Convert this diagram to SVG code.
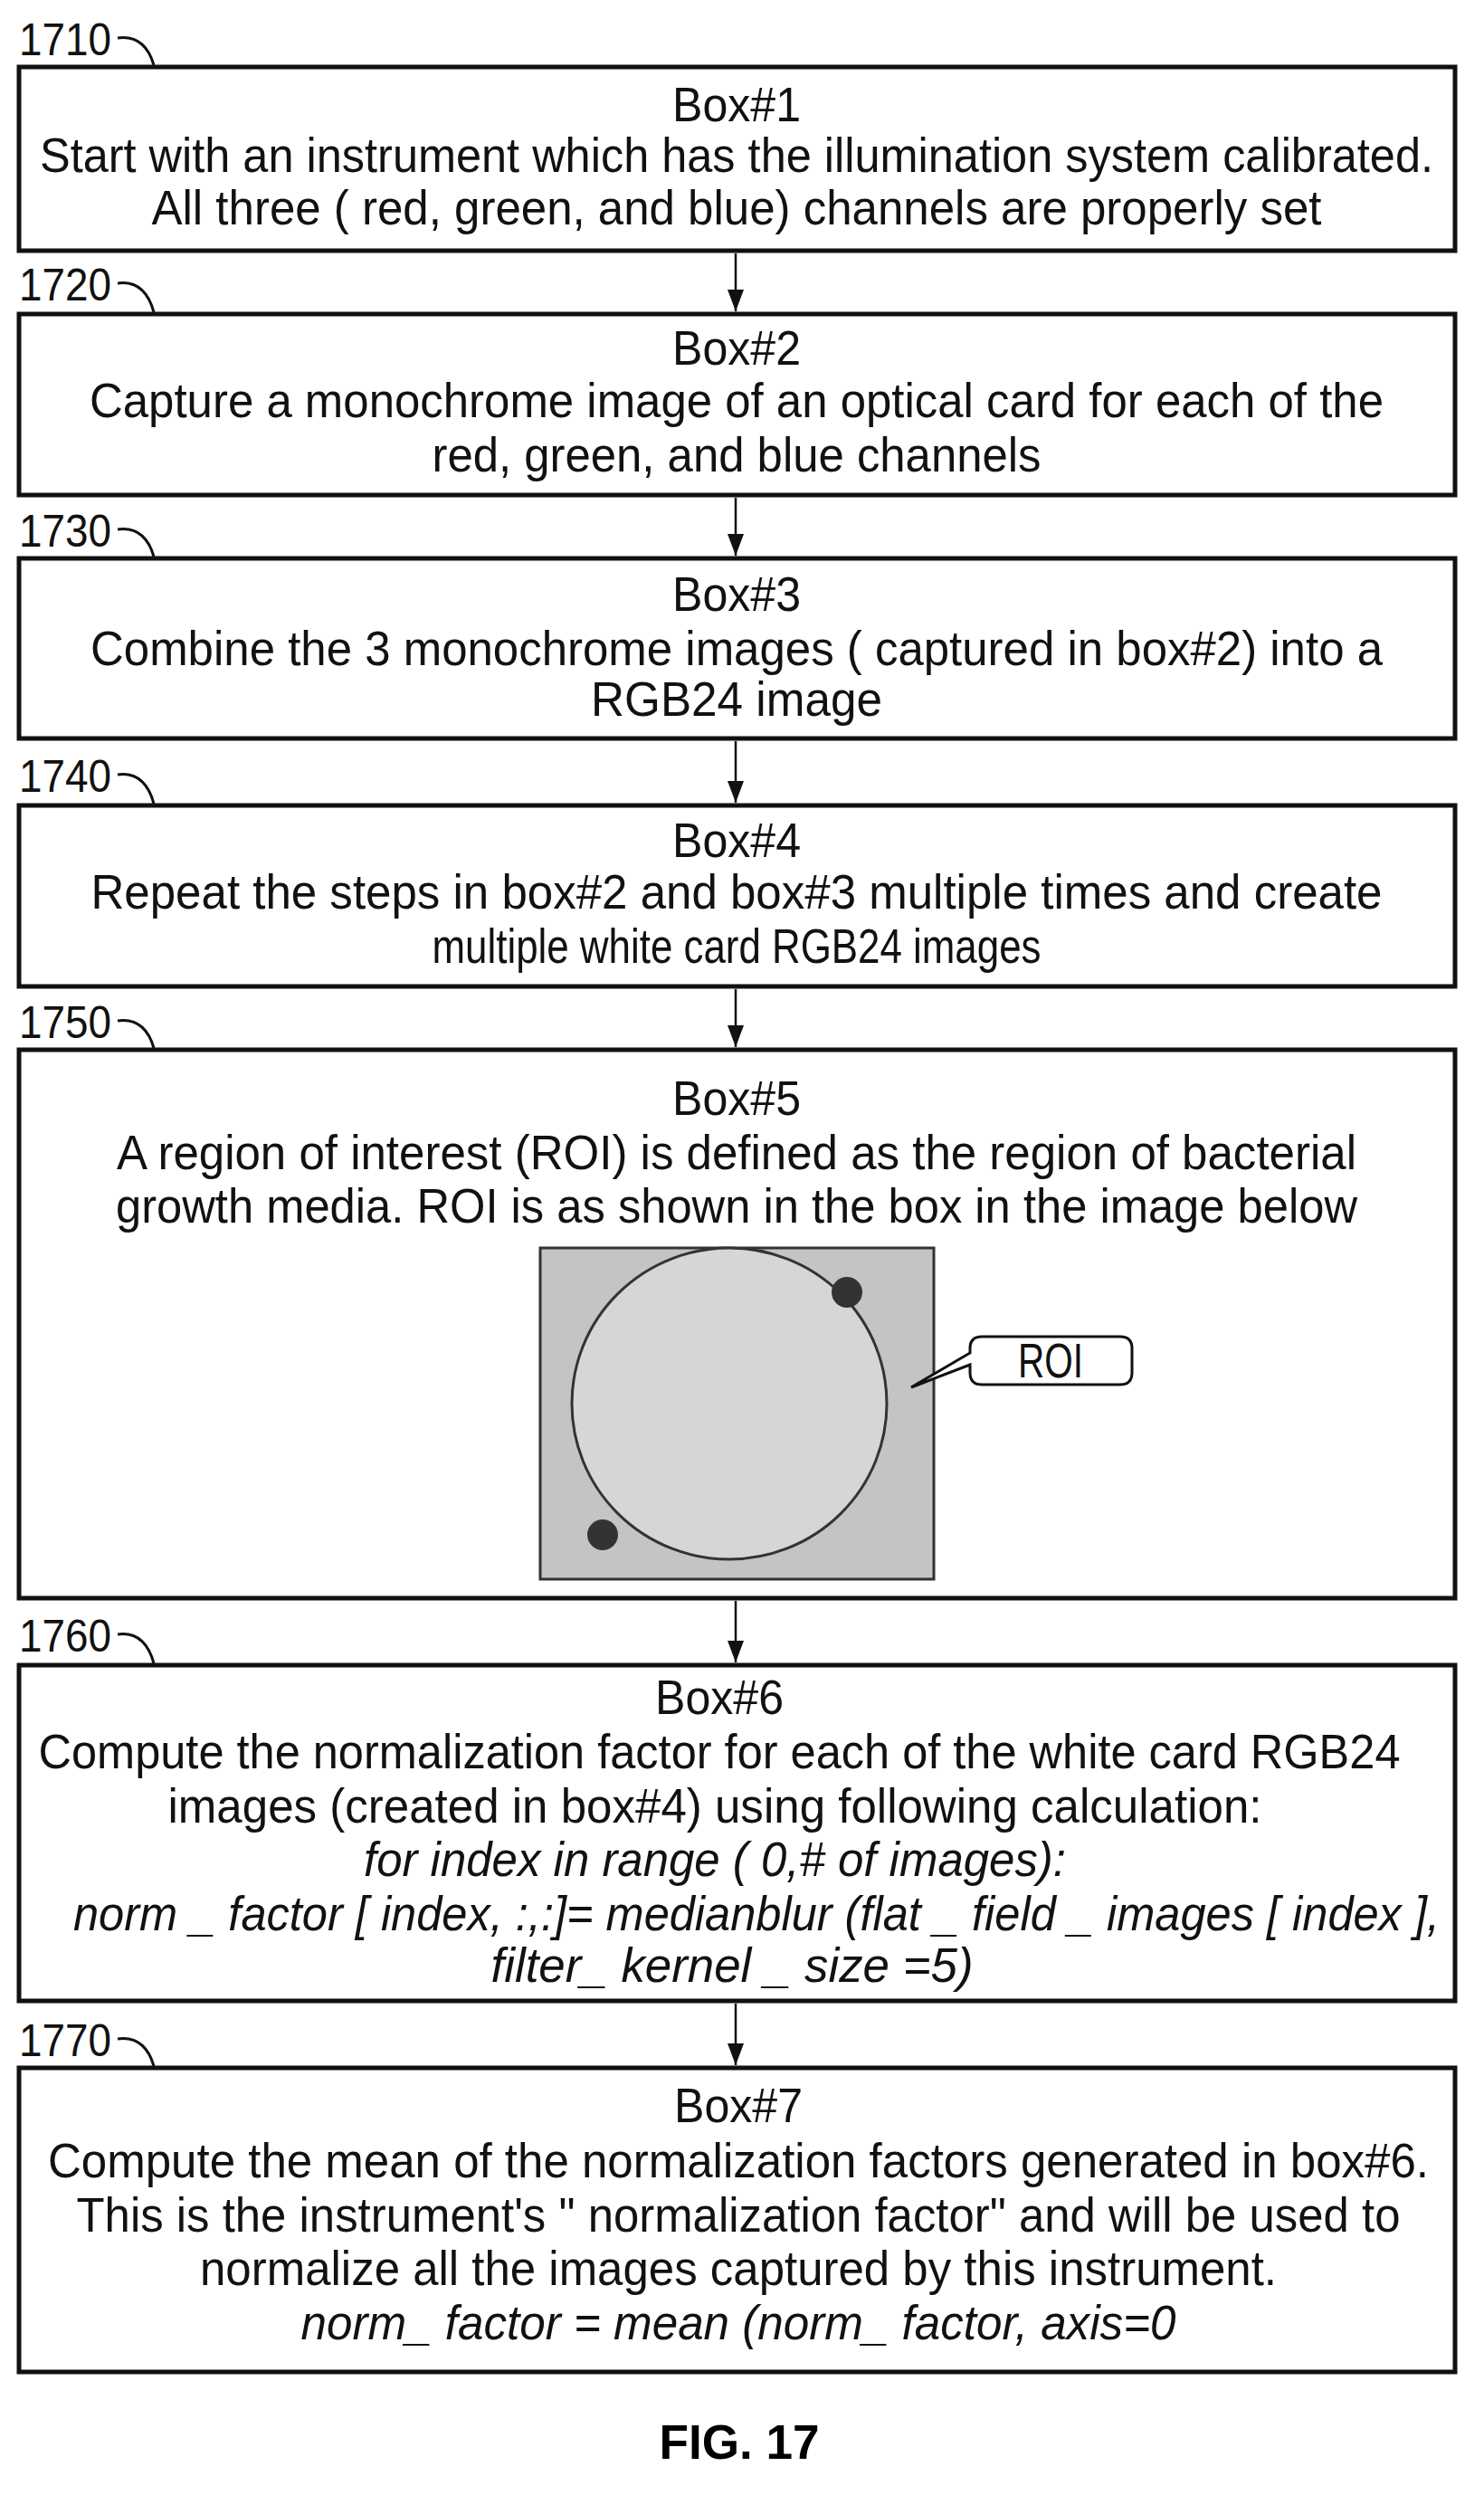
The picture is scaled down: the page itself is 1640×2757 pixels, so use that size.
<svg xmlns="http://www.w3.org/2000/svg" width="1640" height="2757" viewBox="0 0 1640 2757">
<style>
.b{fill:#fff;stroke:#111;stroke-width:5}
.t{font-family:"Liberation Sans",Arial,sans-serif;font-size:53px;fill:#111;text-anchor:middle}
.i{font-style:italic}
.l{font-family:"Liberation Sans",Arial,sans-serif;font-size:50px;fill:#111}
.c{fill:none;stroke:#111;stroke-width:3}
</style>
<defs><marker id="a" markerWidth="24" markerHeight="18" refX="24" refY="9" orient="auto" markerUnits="userSpaceOnUse" viewBox="0 0 24 18"><path d="M0,0 L24,9 L0,18 Z" fill="#111"/></marker></defs>
<rect width="1640" height="2757" fill="#fff"/>
<g id="connectors" stroke="#111" stroke-width="2.5" fill="none">
<line x1="813" y1="280" x2="813" y2="344" marker-end="url(#a)"/>
<line x1="813" y1="550" x2="813" y2="614" marker-end="url(#a)"/>
<line x1="813" y1="819" x2="813" y2="887" marker-end="url(#a)"/>
<line x1="813" y1="1093" x2="813" y2="1157" marker-end="url(#a)"/>
<line x1="813" y1="1769" x2="813" y2="1837" marker-end="url(#a)"/>
<line x1="813" y1="2214" x2="813" y2="2282" marker-end="url(#a)"/>
</g>
<g id="box1"><text class="l" x="21" y="61" textLength="102" lengthAdjust="spacingAndGlyphs">1710</text><path class="c" d="M130,42 Q160,38 170,72"/>
<rect class="b" x="21" y="74" width="1587" height="203"/>
<text class="t" x="814" y="134" textLength="142" lengthAdjust="spacingAndGlyphs">Box#1</text>
<text class="t" x="814" y="190" textLength="1540" lengthAdjust="spacingAndGlyphs">Start with an instrument which has the illumination system calibrated.</text>
<text class="t" x="814" y="248" textLength="1293" lengthAdjust="spacingAndGlyphs">All three ( red, green, and blue) channels are properly set</text></g>
<g id="box2"><text class="l" x="21" y="332" textLength="102" lengthAdjust="spacingAndGlyphs">1720</text><path class="c" d="M130,313 Q160,309 170,345"/>
<rect class="b" x="21" y="347" width="1587" height="200"/>
<text class="t" x="814" y="403" textLength="142" lengthAdjust="spacingAndGlyphs">Box#2</text>
<text class="t" x="814" y="461" textLength="1430" lengthAdjust="spacingAndGlyphs">Capture a monochrome image of an optical card for each of the</text>
<text class="t" x="814" y="521" textLength="673" lengthAdjust="spacingAndGlyphs">red, green, and blue channels</text></g>
<g id="box3"><text class="l" x="21" y="604" textLength="102" lengthAdjust="spacingAndGlyphs">1730</text><path class="c" d="M130,585 Q160,581 170,615"/>
<rect class="b" x="21" y="617" width="1587" height="199"/>
<text class="t" x="814" y="675" textLength="142" lengthAdjust="spacingAndGlyphs">Box#3</text>
<text class="t" x="814" y="735" textLength="1428" lengthAdjust="spacingAndGlyphs">Combine the 3 monochrome images ( captured in box#2) into a</text>
<text class="t" x="814" y="791" textLength="322" lengthAdjust="spacingAndGlyphs">RGB24 image</text></g>
<g id="box4"><text class="l" x="21" y="875" textLength="102" lengthAdjust="spacingAndGlyphs">1740</text><path class="c" d="M130,856 Q160,852 170,888"/>
<rect class="b" x="21" y="890" width="1587" height="200"/>
<text class="t" x="814" y="947" textLength="142" lengthAdjust="spacingAndGlyphs">Box#4</text>
<text class="t" x="814" y="1004" textLength="1427" lengthAdjust="spacingAndGlyphs">Repeat the steps in box#2 and box#3 multiple times and create</text>
<text class="t" x="814" y="1064" textLength="673" lengthAdjust="spacingAndGlyphs">multiple white card RGB24 images</text></g>
<g id="box5"><text class="l" x="21" y="1147" textLength="102" lengthAdjust="spacingAndGlyphs">1750</text><path class="c" d="M130,1128 Q160,1124 170,1158"/>
<rect class="b" x="21" y="1160" width="1587" height="606"/>
<text class="t" x="814" y="1232" textLength="142" lengthAdjust="spacingAndGlyphs">Box#5</text>
<text class="t" x="814" y="1292" textLength="1370" lengthAdjust="spacingAndGlyphs">A region of interest (ROI) is defined as the region of bacterial</text>
<text class="t" x="814" y="1351" textLength="1372" lengthAdjust="spacingAndGlyphs">growth media. ROI is as shown in the box in the image below</text>
<rect x="597" y="1379" width="435" height="366" fill="#c4c4c4" stroke="#333" stroke-width="3"/>
<ellipse cx="806" cy="1551" rx="174" ry="172" fill="#d6d6d6" stroke="#333" stroke-width="3"/>
<circle cx="936" cy="1428" r="17" fill="#333"/>
<circle cx="666" cy="1696" r="17" fill="#333"/>
<path d="M1007,1533 L1072,1495 L1072,1490 Q1072,1477 1085,1477 L1238,1477 Q1251,1477 1251,1490 L1251,1517 Q1251,1530 1238,1530 L1085,1530 Q1072,1530 1072,1517 L1072,1508 Z" fill="#fff" stroke="#111" stroke-width="3"/>
<text class="t" x="1161" y="1522" textLength="72" lengthAdjust="spacingAndGlyphs">ROI</text></g>
<g id="box6"><text class="l" x="21" y="1825" textLength="102" lengthAdjust="spacingAndGlyphs">1760</text><path class="c" d="M130,1806 Q160,1802 170,1838"/>
<rect class="b" x="21" y="1840" width="1587" height="371"/>
<text class="t" x="795" y="1894" textLength="142" lengthAdjust="spacingAndGlyphs">Box#6</text>
<text class="t" x="795" y="1954" textLength="1505" lengthAdjust="spacingAndGlyphs">Compute the normalization factor for each of the white card RGB24</text>
<text class="t" x="790" y="2014" textLength="1209" lengthAdjust="spacingAndGlyphs">images (created in box#4) using following calculation:</text>
<text class="t i" x="790" y="2073" textLength="776" lengthAdjust="spacingAndGlyphs">for index in range ( 0,# of images):</text>
<text class="t i" x="836" y="2133" textLength="1510" lengthAdjust="spacingAndGlyphs">norm _ factor [ index, :,:]= medianblur (flat _ field _ images [ index ],</text>
<text class="t i" x="809" y="2190" textLength="533" lengthAdjust="spacingAndGlyphs">filter_ kernel _ size =5)</text></g>
<g id="box7"><text class="l" x="21" y="2272" textLength="102" lengthAdjust="spacingAndGlyphs">1770</text><path class="c" d="M130,2253 Q160,2249 170,2283"/>
<rect class="b" x="21" y="2285" width="1587" height="336"/>
<text class="t" x="816" y="2345" textLength="142" lengthAdjust="spacingAndGlyphs">Box#7</text>
<text class="t" x="816" y="2406" textLength="1526" lengthAdjust="spacingAndGlyphs">Compute the mean of the normalization factors generated in box#6.</text>
<text class="t" x="816" y="2466" textLength="1463" lengthAdjust="spacingAndGlyphs">This is the instrument's " normalization factor" and will be used to</text>
<text class="t" x="816" y="2525" textLength="1190" lengthAdjust="spacingAndGlyphs">normalize all the images captured by this instrument.</text>
<text class="t i" x="816" y="2585" textLength="967" lengthAdjust="spacingAndGlyphs">norm_ factor = mean (norm_ factor, axis=0</text></g>
<text x="817" y="2717" font-family="Liberation Sans,Arial,sans-serif" font-weight="bold" font-size="54" text-anchor="middle" textLength="177" lengthAdjust="spacingAndGlyphs">FIG. 17</text>
</svg>
